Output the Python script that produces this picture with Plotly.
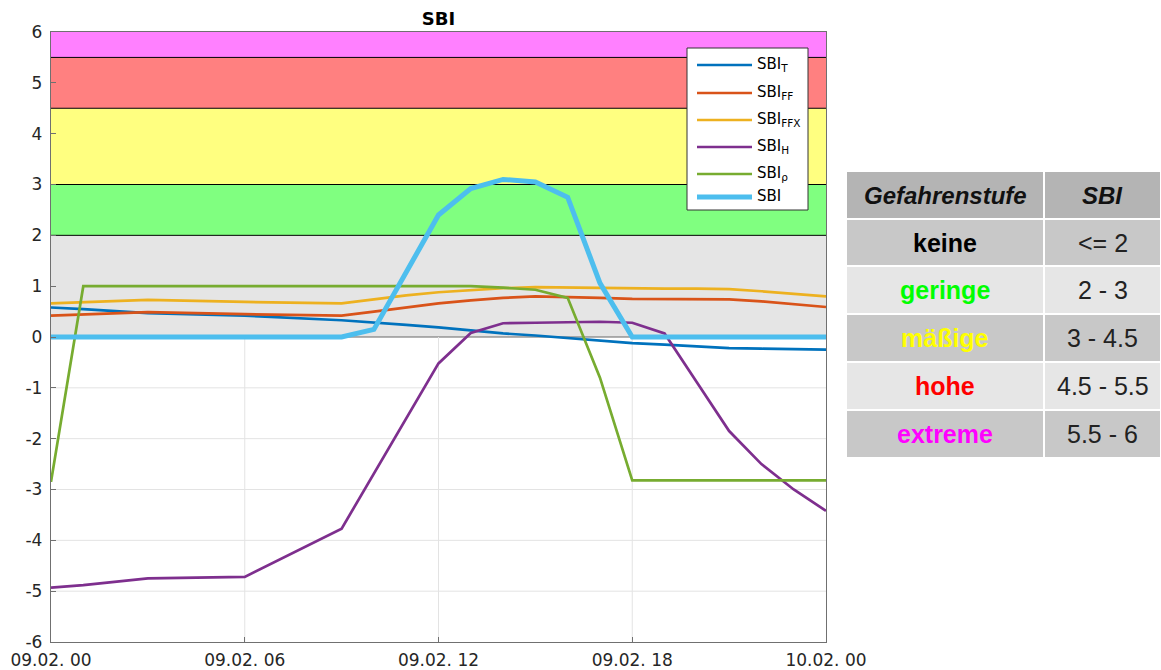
import plotly.graph_objects as go
from datetime import datetime, timedelta

base = datetime(2021, 2, 9, 0, 0)
hours = [0, 1, 3, 6, 9, 10, 11, 12, 13, 14, 15, 16, 17, 18, 19, 20, 21, 22, 23, 24]
times = [base + timedelta(hours=h) for h in hours]

sbi_t   = [0.58, 0.55, 0.47, 0.42, 0.33, 0.29, 0.24, 0.19, 0.13, 0.07, 0.03, -0.02, -0.07, -0.12, -0.15, -0.19, -0.22, -0.23, -0.24, -0.25]
sbi_ff  = [0.42, 0.44, 0.49, 0.45, 0.42, 0.50, 0.58, 0.66, 0.72, 0.77, 0.80, 0.79, 0.77, 0.75, 0.75, 0.74, 0.74, 0.70, 0.65, 0.59]
sbi_ffx = [0.66, 0.68, 0.73, 0.69, 0.66, 0.74, 0.82, 0.88, 0.92, 0.96, 0.98, 0.97, 0.96, 0.95, 0.95, 0.95, 0.94, 0.90, 0.85, 0.80]
sbi_h   = [-4.93, -4.88, -4.75, -4.72, -3.77, -2.69, -1.61, -0.52, 0.08, 0.27, 0.28, 0.29, 0.30, 0.28, 0.07, -0.89, -1.85, -2.50, -3.00, -3.42]
sbi_rho = [-2.85, 1.0, 1.0, 1.0, 1.0, 1.0, 1.0, 1.0, 1.0, 0.97, 0.93, 0.77, -0.80, -2.82, -2.82, -2.82, -2.82, -2.82, -2.82, -2.82]
sbi     = [0.0, 0.0, 0.0, 0.0, 0.0, 0.15, 1.3, 2.4, 2.92, 3.1, 3.05, 2.75, 1.06, 0.0, 0.0, 0.0, 0.0, 0.0, 0.0, 0.0]

series_names = ["SBI<sub>T</sub>", "SBI<sub>FF</sub>", "SBI<sub>FFX</sub>", "SBI<sub>H</sub>", "SBI<sub>ρ</sub>", "SBI"]
series_vals = [sbi_t, sbi_ff, sbi_ffx, sbi_h, sbi_rho, sbi]
series_colors = ["#0072BD", "#D95319", "#EDB120", "#7E2F8E", "#77AC30", "#4DBEEE"]
series_widths = [2.7, 2.7, 2.7, 2.7, 2.7, 5]

band_lo = [0, 2, 3, 4.5, 5.5]
band_hi = [2, 3, 4.5, 5.5, 6]
band_col = ["#e5e5e5", "#80ff80", "#ffff80", "#ff8080", "#ff80ff"]

yticks = [-6, -5, -4, -3, -2, -1, 0, 1, 2, 3, 4, 5, 6]
ytick_text = [str(v) for v in yticks]
xtick_hours = [0, 6, 12, 18, 24]

tbl_header = ["Gefahrenstufe", "SBI"]
tbl_level = ["keine", "geringe", "mäßige", "hohe", "extreme"]
tbl_level_color = ["#000000", "#00ff00", "#ffff00", "#ff0000", "#ff00ff"]
tbl_range = ["<= 2", "2 - 3", "3 - 4.5", "4.5 - 5.5", "5.5 - 6"]
tbl_fill = ["#c8c8c8", "#e6e6e6", "#c8c8c8", "#e6e6e6", "#c8c8c8"]
tbl_header_fill = "#b4b4b4"

# layout geometry (pixels)
W, H = 1161, 670
ML, MR, MT, MB = 51, 1, 32, 28
PW, PH = W - ML - MR, H - MT - MB
PLOT_RIGHT = 826
AXIS_COL = "#707070"


def px_x(p):
    return (p - ML) / PW


def px_y(p):
    return (H - MB - p) / PH


fig = go.Figure()
for name, vals, col, w in zip(series_names, series_vals, series_colors, series_widths):
    fig.add_trace(go.Scatter(x=times, y=vals, mode="lines", name=name,
                             line=dict(color=col, width=w), showlegend=False))

shapes = []
annotations = []
# grid lines in the white region only
for h in xtick_hours[1:-1]:
    t = base + timedelta(hours=h)
    shapes.append(dict(type="line", xref="x", yref="y", x0=t, x1=t, y0=-6, y1=0,
                       line=dict(color="#e3e3e3", width=1), layer="below"))
for v in yticks:
    if -6 < v < 0:
        shapes.append(dict(type="line", xref="x domain", yref="y", x0=0, x1=1, y0=v, y1=v,
                           line=dict(color="#e3e3e3", width=1), layer="below"))
for lo, hi, c in zip(band_lo, band_hi, band_col):
    shapes.append(dict(type="rect", xref="x domain", yref="y", x0=0, x1=1, y0=lo, y1=hi,
                       fillcolor=c, line=dict(width=0), layer="below"))
for lo in band_lo:
    shapes.append(dict(type="line", xref="x domain", yref="y", x0=0, x1=1, y0=lo, y1=lo,
                       line=dict(color="#000000" if lo > 0 else "#666666", width=1), layer="below"))

# legend box (drawn manually to match spacing)
LX0, LX1, LY0, LY1 = 687, 808, 48, 210
shapes.append(dict(type="rect", xref="paper", yref="paper",
                   x0=px_x(LX0), x1=px_x(LX1), y0=px_y(LY1), y1=px_y(LY0),
                   fillcolor="white", line=dict(color="#333333", width=1), layer="above"))
leg_rows = [65, 93, 120, 147, 174, 197]
for name, col, w, ry in zip(series_names, series_colors, series_widths, leg_rows):
    shapes.append(dict(type="line", xref="paper", yref="paper",
                       x0=px_x(697), x1=px_x(752), y0=px_y(ry), y1=px_y(ry),
                       line=dict(color=col, width=w), layer="above"))
    annotations.append(dict(xref="paper", yref="paper", x=px_x(755), y=px_y(ry - 1),
                            text=name, showarrow=False, xanchor="left", yanchor="middle",
                            font=dict(family="DejaVu Sans, sans-serif", size=15, color="#000000")))

# table built from shapes + annotations
col_edges = [(847, 1043), (1045, 1160)]
row_edges = [(172, 218), (220, 265), (267, 313), (315, 361), (363, 409), (411, 457)]
tfont = "Liberation Sans, Arial, sans-serif"
for r, (y0, y1) in enumerate(row_edges):
    fill = tbl_header_fill if r == 0 else tbl_fill[r - 1]
    for c, (x0, x1) in enumerate(col_edges):
        shapes.append(dict(type="rect", xref="paper", yref="paper",
                           x0=px_x(x0), x1=px_x(x1), y0=px_y(y1), y1=px_y(y0),
                           fillcolor=fill, line=dict(width=0), layer="below"))
        if r == 0:
            txt = "<b><i>" + tbl_header[c] + "</i></b>"
            fnt = dict(family=tfont, size=24, color="#111111")
        elif c == 0:
            txt = "<b>" + tbl_level[r - 1] + "</b>"
            fnt = dict(family=tfont, size=25, color=tbl_level_color[r - 1])
        else:
            txt = tbl_range[r - 1]
            fnt = dict(family=tfont, size=25, color="#222222")
        annotations.append(dict(xref="paper", yref="paper", x=px_x((x0 + x1) / 2),
                                y=px_y((y0 + y1) / 2), text=txt, showarrow=False,
                                xanchor="center", yanchor="middle", font=fnt))

fig.update_layout(
    width=W, height=H,
    margin=dict(l=ML, r=MR, t=MT, b=MB),
    paper_bgcolor="white", plot_bgcolor="white",
    font=dict(family="DejaVu Sans, sans-serif", size=17, color="#262626"),
    title=dict(text="<b>SBI</b>", x=(ML + PLOT_RIGHT) / 2 / W, xanchor="center",
               y=1 - 19 / H, yanchor="middle", font=dict(size=18, color="#000000")),
    shapes=shapes,
    annotations=annotations,
    showlegend=False,
    xaxis=dict(domain=[0, px_x(PLOT_RIGHT)], type="date",
               range=[base, base + timedelta(hours=24)],
               tickvals=[base + timedelta(hours=h) for h in xtick_hours],
               tickformat="%d.%m. %H",
               showgrid=False, automargin=False, ticklabelstandoff=2,
               ticks="inside", ticklen=5, tickcolor=AXIS_COL,
               showline=True, linecolor=AXIS_COL, linewidth=1.3, mirror=True,
               zeroline=False, fixedrange=True),
    yaxis=dict(range=[-6, 6], tickvals=yticks, ticktext=ytick_text,
               showgrid=False, automargin=False, ticklabelstandoff=4,
               ticks="inside", ticklen=5, tickcolor=AXIS_COL,
               showline=True, linecolor=AXIS_COL, linewidth=1.3, mirror=True,
               zeroline=False, fixedrange=True),
)

fig.write_html("out.html", config={"displayModeBar": False},
               post_script="document.body.style.margin='0';document.body.style.padding='0';")
